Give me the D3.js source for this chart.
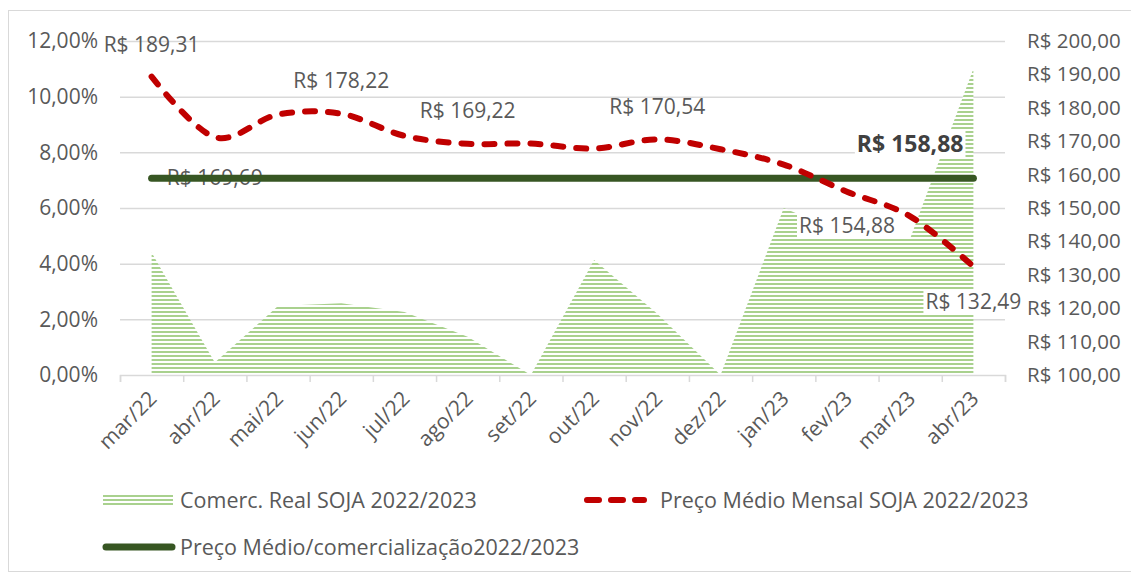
<!DOCTYPE html>
<html><head><meta charset="utf-8">
<script src="https://cdn.jsdelivr.net/npm/d3@7"></script>
<style>
body{margin:0;background:#fff}
svg{display:block}
text{font-family:"Open Sans",sans-serif}
</style>
</head><body>
<svg id="c" width="1131" height="574"></svg>
<script>
// ---------- data ----------
const categories = ["mar/22","abr/22","mai/22","jun/22","jul/22","ago/22","set/22","out/22","nov/22","dez/22","jan/23","fev/23","mar/23","abr/23"];
const comercReal = [0.044, 0.0045, 0.0248, 0.0258, 0.0226, 0.0137, 0.0, 0.0413, 0.022, 0.0, 0.060, 0.0505, 0.049, 0.110];
const precoMensal = [189.31, 171.2, 178.0, 178.22, 171.6, 169.22, 169.3, 167.8, 170.54, 167.6, 163.0, 154.88, 147.5, 132.49];
const precoMedio = [158.88, 158.88, 158.88, 158.88, 158.88, 158.88, 158.88, 158.88, 158.88, 158.88, 158.88, 158.88, 158.88, 158.88];
const leftTicks = [0, 0.02, 0.04, 0.06, 0.08, 0.10, 0.12];
const rightTicks = [100, 110, 120, 130, 140, 150, 160, 170, 180, 190, 200];
const precoLabelIndex = [0, 3, 5, 8, 11, 13];
const medioLabelIndex = [1, 12];
const medioLabelText = ["R$ 169,69", "R$ 158,88"];
const seriesNames = ["Comerc. Real SOJA 2022/2023", "Preço Médio Mensal SOJA 2022/2023", "Preço Médio/comercialização2022/2023"];

// ---------- layout / style ----------
const plot = {left:120, right:1005, top:41, bottom:375};
const grey = "#595959", gridC = "#d9d9d9", red = "#c00000", dkGreen = "#375623", ltGreen = "#a9d18e";
const fs = 21, fsLeg = 21.5;
const precoLabelOffset = [[0,-25],[0,-26],[0,-26],[0,-25],[0,41],[0,43]];
const medioLabelOffset = [[0,7],[0,-26]];

const svg = d3.select("#c");
const loc = d3.formatLocale({decimal:",", thousands:".", grouping:[3], currency:["R$ ",""]});
const fmtPct = loc.format(".2%");
const fmtBRL = v => "R$ " + loc.format(".2f")(v);

const x = d3.scalePoint().domain(categories).range([plot.left, plot.right]).padding(0.5);
const xB = d3.scaleLinear().domain([0, categories.length]).range([plot.left, plot.right]);
const yL = d3.scaleLinear().domain([0, 0.12]).range([plot.bottom, plot.top]);
const yR = d3.scaleLinear().domain([100, 200]).range([plot.bottom, plot.top]);

// pattern
const defs = svg.append("defs");
const pat = defs.append("pattern").attr("id","stripes").attr("patternUnits","userSpaceOnUse")
  .attr("width",8).attr("height",4).attr("y",plot.bottom);
pat.append("rect").attr("width",8).attr("height",4).attr("fill","#fff");
pat.append("rect").attr("width",8).attr("height",2).attr("fill",ltGreen);

// border
svg.append("rect").attr("x",8.5).attr("y",10.5).attr("width",1140).attr("height",561)
  .attr("fill","none").attr("stroke",gridC).attr("stroke-width",1);

// gridlines
const grid = svg.append("g").attr("transform",`translate(${plot.left},0)`)
  .call(d3.axisLeft(yL).tickValues(leftTicks.slice(1)).tickSize(-(plot.right-plot.left)).tickFormat(""));
grid.select(".domain").remove();
grid.selectAll("line").attr("stroke",gridC).attr("stroke-width",1.5);

// left axis labels
const gL = svg.append("g").attr("transform",`translate(${plot.left},0)`)
  .call(d3.axisLeft(yL).tickValues(leftTicks).tickSize(0).tickPadding(22).tickFormat(fmtPct));
gL.select(".domain").remove();
gL.selectAll("text").attr("fill",grey).attr("font-size",fs).attr("font-family","Open Sans");

// right axis labels
const gR = svg.append("g").attr("transform",`translate(${plot.right},0)`)
  .call(d3.axisRight(yR).tickValues(rightTicks).tickSize(0).tickPadding(22).tickFormat(fmtBRL));
gR.select(".domain").remove();
gR.selectAll("text").attr("fill",grey).attr("font-size",20.5).attr("font-family","Open Sans");

// area
const area = d3.area().x((d,i)=>x(categories[i])).y0(plot.bottom).y1(d=>yL(d));
svg.append("path").datum(comercReal).attr("d",area).attr("fill","url(#stripes)");

// x axis line + boundary ticks
const gX = svg.append("g").attr("transform",`translate(0,${plot.bottom})`)
  .call(d3.axisBottom(xB).tickValues(d3.range(categories.length+1)).tickSize(7).tickFormat(""));
gX.select(".domain").attr("stroke",gridC).attr("stroke-width",1.5);
gX.selectAll("line").attr("stroke",gridC).attr("stroke-width",1.5);

// x labels
const gXL = svg.append("g").attr("transform",`translate(0,${plot.bottom})`)
  .call(d3.axisBottom(x).tickSize(0).tickPadding(0));
gXL.select(".domain").remove();
gXL.selectAll("text").attr("fill",grey).attr("font-size",fs).attr("font-family","Open Sans")
  .attr("text-anchor","end").attr("x",0).attr("y",0).attr("dy",null)
  .attr("transform","translate(6,25) rotate(-45)");

function addLabel(text, px, py, opts={}) {
  const g = svg.append("g");
  const t = g.append("text").attr("x",px).attr("y",py).attr("text-anchor","middle")
    .attr("font-size",opts.size||fs).attr("fill",opts.fill||grey).attr("font-weight",opts.bold?"bold":null).text(text);
  if (opts.box) {
    const bb = t.node().getBBox();
    g.insert("rect","text").attr("x",bb.x-2).attr("y",bb.y+2).attr("width",bb.width+4).attr("height",bb.height-3).attr("fill","#fff");
  }
  return g;
}

// first avg label (under the line)
addLabel(medioLabelText[0], x(categories[medioLabelIndex[0]])+medioLabelOffset[0][0], yR(precoMedio[medioLabelIndex[0]])+medioLabelOffset[0][1]);

// avg line
svg.append("path").datum(precoMedio)
  .attr("d", d3.line().x((d,i)=>x(categories[i])).y(d=>yR(d)))
  .attr("fill","none").attr("stroke",dkGreen).attr("stroke-width",7).attr("stroke-linecap","round");

// price labels
precoLabelIndex.forEach((idx,k)=>{
  const o = precoLabelOffset[k];
  addLabel(fmtBRL(precoMensal[idx]), x(categories[idx])+o[0], yR(precoMensal[idx])+o[1], {box: k>=4});
});
addLabel(medioLabelText[1], x(categories[medioLabelIndex[1]])+medioLabelOffset[1][0], yR(precoMedio[medioLabelIndex[1]])+medioLabelOffset[1][1], {bold:true, fill:"#404040", box:true, size:23});

// price line
svg.append("path").datum(precoMensal)
  .attr("d", d3.line().x((d,i)=>x(categories[i])).y(d=>yR(d)).curve(d3.curveCardinal.tension(0)))
  .attr("fill","none").attr("stroke",red).attr("stroke-width",6)
  .attr("stroke-linecap","round").attr("stroke-dasharray","10 13");

// legend
const lg = svg.append("g");
lg.append("rect").attr("x",103).attr("y",493).attr("width",70).attr("height",14).attr("fill","url(#stripes)");
lg.append("text").attr("x",180).attr("y",500).attr("dy","0.35em").attr("font-size",fsLeg).attr("fill",grey).text(seriesNames[0]);
lg.append("line").attr("x1",587).attr("x2",644).attr("y1",500).attr("y2",500)
  .attr("stroke",red).attr("stroke-width",6).attr("stroke-linecap","round").attr("stroke-dasharray","12 12");
lg.append("text").attr("x",660).attr("y",500).attr("dy","0.35em").attr("font-size",fsLeg).attr("fill",grey).text(seriesNames[1]);
lg.append("line").attr("x1",106).attr("x2",172).attr("y1",547).attr("y2",547)
  .attr("stroke",dkGreen).attr("stroke-width",7).attr("stroke-linecap","round");
lg.append("text").attr("x",180).attr("y",547).attr("dy","0.35em").attr("font-size",fsLeg).attr("fill",grey).text(seriesNames[2]);
</script>
</body></html>
